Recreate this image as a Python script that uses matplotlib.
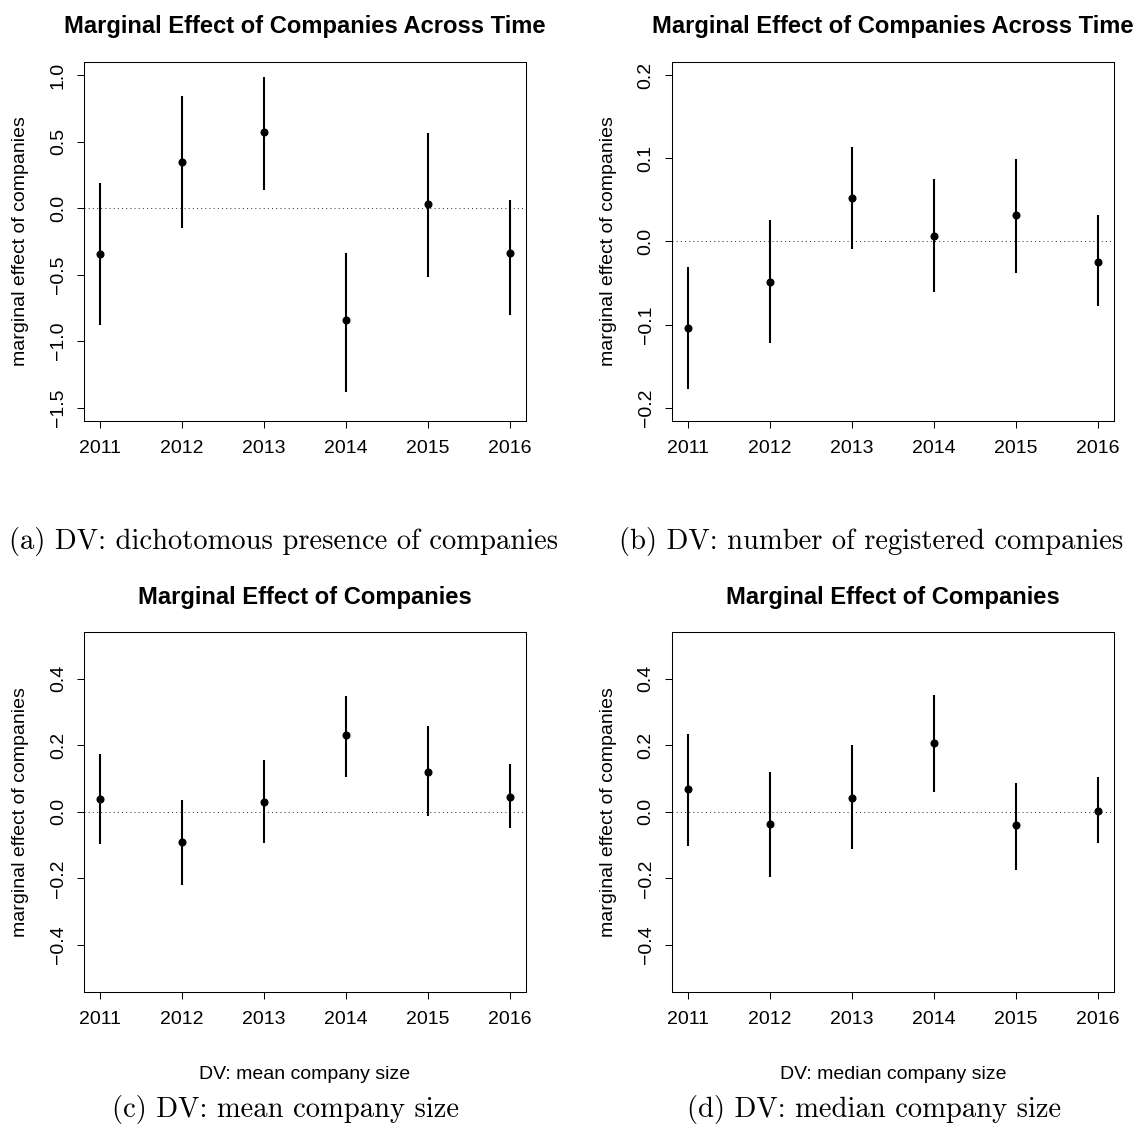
import matplotlib
matplotlib.use("Agg")
import matplotlib.pyplot as plt

plt.rcParams['font.family'] = ['Liberation Sans', 'DejaVu Sans']

W, H = 1134, 1124

years = [2011, 2012, 2013, 2014, 2015, 2016]
year_labels = ['2011', '2012', '2013', '2014', '2015', '2016']

# (a) dichotomous presence of companies
est_a = [-0.345, 0.350, 0.571, -0.843, 0.028, -0.340]
lo_a = [-0.878, -0.153, 0.135, -1.379, -0.516, -0.801]
hi_a = [0.188, 0.846, 0.983, -0.335, 0.561, 0.060]
yticks_a = [-1.5, -1.0, -0.5, 0.0, 0.5, 1.0]
ylabels_a = ['\u22121.5', '\u22121.0', '\u22120.5', '0.0', '0.5', '1.0']

# (b) number of registered companies
est_b = [-0.1045, -0.0493, 0.0517, 0.0064, 0.0312, -0.0252]
lo_b = [-0.178, -0.1217, -0.0092, -0.0609, -0.038, -0.0773]
hi_b = [-0.0312, 0.0252, 0.1133, 0.0753, 0.0989, 0.0312]
yticks_b = [-0.2, -0.1, 0.0, 0.1, 0.2]
ylabels_b = ['\u22120.2', '\u22120.1', '0.0', '0.1', '0.2']

# (c) mean company size
est_c = [0.039, -0.090, 0.031, 0.231, 0.121, 0.045]
lo_c = [-0.097, -0.220, -0.095, 0.106, -0.011, -0.049]
hi_c = [0.175, 0.037, 0.155, 0.347, 0.258, 0.145]

# (d) median company size
est_d = [0.068, -0.035, 0.043, 0.208, -0.040, 0.004]
lo_d = [-0.104, -0.195, -0.112, 0.061, -0.174, -0.093]
hi_d = [0.235, 0.120, 0.201, 0.352, 0.088, 0.105]
yticks_cd = [-0.4, -0.2, 0.0, 0.2, 0.4]
ylabels_cd = ['\u22120.4', '\u22120.2', '0.0', '0.2', '0.4']


def px_box(x0, y0, x1, y1):
    return [x0 / W, 1 - y1 / H, (x1 - x0) / W, (y1 - y0) / H]


def r_lim(lo, hi):
    # R-style 4% padding on both sides
    d = (hi - lo) * 0.04
    return lo - d, hi + d


def effect_panel(fig, rect, est, lo, hi, ylim, yticks, ylabels, title, title_y):
    x0, y0, x1, y1 = rect
    ax = fig.add_axes(px_box(x0, y0, x1, y1))
    ax.axhline(0, color='0.25', lw=0.75, ls=(0, (1, 3)), zorder=1)
    ax.vlines(years, lo, hi, color='black', lw=1.5, zorder=2)
    ax.plot(years, est, 'o', color='black', ms=4.8, zorder=3)
    ax.set_xlim(r_lim(years[0], years[-1]))
    ax.set_ylim(r_lim(*ylim))
    ax.set_xticks(years)
    ax.set_xticklabels(year_labels, fontsize=14)
    ax.set_yticks(yticks)
    ax.set_yticklabels(ylabels, fontsize=14, rotation=90, va='center')
    ax.tick_params(axis='x', length=5, width=0.75, pad=8.6)
    ax.tick_params(axis='y', length=5, width=0.75, pad=7.2)
    for s in ax.spines.values():
        s.set_linewidth(0.75)
    fig.text((x0 + x1) / 2 / W, 1 - title_y / H, title, ha='center', va='baseline',
             fontsize=17.1, fontweight='bold')
    fig.text((x0 - 62.7) / W, 1 - (y0 + y1) / 2 / H, 'marginal effect of companies',
             rotation=90, ha='center', va='center', fontsize=14)
    return ax


fig = plt.figure(figsize=(W / 100, H / 100), dpi=100)

top = (61.7, 421.0)
bot = (632.0, 991.7)
left = (83.7, 526.3)
right = (671.6, 1114.0)

effect_panel(fig, (left[0], top[0], left[1], top[1]), est_a, lo_a, hi_a, (-1.5, 1.0),
             yticks_a, ylabels_a, 'Marginal Effect of Companies Across Time', 33.5)
effect_panel(fig, (right[0], top[0], right[1], top[1]), est_b, lo_b, hi_b, (-0.2, 0.2),
             yticks_b, ylabels_b, 'Marginal Effect of Companies Across Time', 33.5)
effect_panel(fig, (left[0], bot[0], left[1], bot[1]), est_c, lo_c, hi_c, (-0.5, 0.5),
             yticks_cd, ylabels_cd, 'Marginal Effect of Companies', 604.3)
effect_panel(fig, (right[0], bot[0], right[1], bot[1]), est_d, lo_d, hi_d, (-0.5, 0.5),
             yticks_cd, ylabels_cd, 'Marginal Effect of Companies', 604.3)

# x-axis notes under the bottom row
fig.text(sum(left) / 2 / W, 1 - 1079 / H, 'DV: mean company size', ha='center',
         va='baseline', fontsize=14)
fig.text(sum(right) / 2 / W, 1 - 1079 / H, 'DV: median company size', ha='center',
         va='baseline', fontsize=14)

# subfigure captions
cap_font = ['cmr10', 'DejaVu Serif']
cap_size = 20.6
fig.text(9 / W, 1 - 549 / H, '(a) DV: dichotomous presence of companies',
         ha='left', va='baseline', fontsize=cap_size, family=cap_font)
fig.text(619.3 / W, 1 - 549 / H, '(b) DV: number of registered companies',
         ha='left', va='baseline', fontsize=cap_size, family=cap_font)
fig.text(111.7 / W, 1 - 1117 / H, '(c) DV: mean company size',
         ha='left', va='baseline', fontsize=cap_size, family=cap_font)
fig.text(687 / W, 1 - 1117 / H, '(d) DV: median company size',
         ha='left', va='baseline', fontsize=cap_size, family=cap_font)

fig.savefig('out.png', dpi=100)
